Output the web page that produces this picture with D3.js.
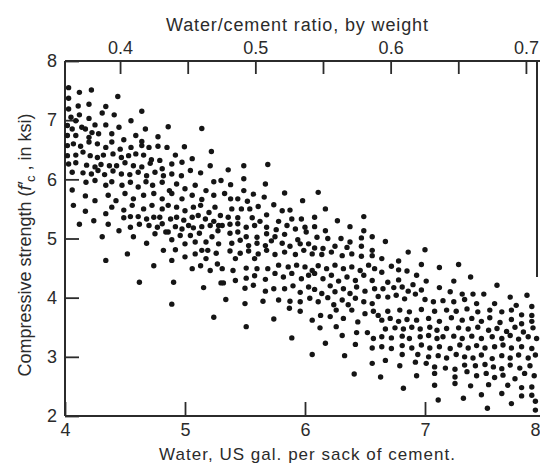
<!DOCTYPE html>
<html>
<head>
<meta charset="utf-8">
<script src="https://cdn.jsdelivr.net/npm/d3@7"></script>
<style>
html, body { margin: 0; padding: 0; background: #fff; }
svg { display: block; font-family: "Liberation Sans", Arial, sans-serif; }
</style>
</head>
<body>
<svg id="chart" width="540" height="464"></svg>
<script>
var gallonTicks = [4, 5, 6, 7, 8];
var strengthTicks = [2, 3, 4, 5, 6, 7, 8];
var ratioTicks = [0.4, 0.45, 0.5, 0.55, 0.6, 0.65, 0.7];
var ratioLabels = [0.4, 0.5, 0.6, 0.7];

var upperLeftPoints = [
    [4.03,7.55],[4.12,7.47],[4.22,7.51],[4.44,7.40],
    [4.03,7.37],[4.11,7.24],[4.20,7.27],[4.34,7.23],[4.03,7.19],[4.64,7.15],
    [4.12,7.09],[4.31,7.12],[4.41,7.09],[4.05,7.05],[4.20,7.03],[4.09,6.99],[4.55,6.99],[4.25,6.92],
    [4.02,6.91],[4.14,6.88],[4.34,6.92],[4.86,6.89],[5.14,6.86],[4.45,6.88],
    [4.06,6.85],[4.17,6.85],[4.225,6.79],[4.67,6.85],[4.59,6.74],
    [4.02,6.74],[4.09,6.74],[4.20,6.71],[4.28,6.77],[4.39,6.77],[4.49,6.67],[4.775,6.72],[4.64,6.64],
    [4.02,6.57],[4.07,6.60],[4.13,6.56],[4.20,6.63],[4.27,6.60],[4.34,6.54],[4.39,6.63],[4.46,6.51],
    [4.55,6.54],[4.64,6.57],[4.70,6.54],[4.775,6.56],[4.85,6.54],[4.995,6.55],[5.22,6.47],
    [4.02,6.40],[4.09,6.41],[4.15,6.46],[4.21,6.40],[4.27,6.37],[4.32,6.41],[4.40,6.43],[4.47,6.37],
    [4.53,6.40],[4.59,6.43],[4.655,6.41],[4.72,6.33],[4.79,6.32],[4.92,6.41],[5.06,6.35],
    [4.03,6.26],[4.09,6.28],[4.18,6.24],[4.25,6.21],[4.30,6.25],[4.37,6.23],[4.43,6.23],[4.50,6.28],
    [4.57,6.23],[4.64,6.21],[4.71,6.27],[4.81,6.18],[4.89,6.26],[4.975,6.29],[5.045,6.15],[5.21,6.23],
    [4.06,6.12],[4.15,6.11],[4.22,6.09],[4.275,6.15],[4.33,6.08],[4.40,6.14],[4.47,6.09],[4.54,6.08],
    [4.61,6.12],[4.68,6.06],[4.75,6.12],[4.82,6.06],[4.89,6.09],[4.97,6.06],[5.13,6.11],
    [4.06,5.82],[4.175,5.95],[4.25,5.98],[4.34,5.90],[4.39,5.96],[4.475,5.90],[4.545,5.95],[4.61,5.87],
    [4.675,5.96],[4.73,5.90],[4.81,5.95],[4.87,5.81],[4.93,5.92],[5.00,5.84],[5.085,5.90],[5.175,5.81],
    [5.24,5.96],[5.30,5.98],
    [4.17,5.72],[4.25,5.64],[4.36,5.73],[4.425,5.64],[4.50,5.76],[4.57,5.67],[4.655,5.73],[4.74,5.76],
    [4.81,5.67],[4.89,5.76],[4.975,5.67],[5.06,5.73],[5.14,5.66],[5.24,5.73]
];

var lowerLeftPoints = [
    [4.07,5.56],[4.17,5.46],[4.34,5.42],[4.39,5.53],[4.49,5.48],[4.56,5.56],[4.655,5.50],[4.725,5.56],
    [4.81,5.50],[4.86,5.56],[4.93,5.53],[5.00,5.47],[5.07,5.53],[5.13,5.56],[5.20,5.44],[5.25,5.53],[5.295,5.39],
    [4.12,5.24],[4.24,5.30],[4.36,5.24],[4.49,5.35],[4.545,5.37],[4.61,5.37],[4.68,5.33],[4.74,5.36],
    [4.79,5.36],[4.88,5.33],[4.93,5.36],[4.99,5.31],[5.06,5.36],[5.11,5.39],[5.17,5.33],[5.24,5.29],[5.28,5.22],
    [4.45,5.13],[4.545,5.19],[4.62,5.24],[4.70,5.22],[4.77,5.19],[4.81,5.25],[4.86,5.11],[4.92,5.20],
    [4.975,5.16],[5.03,5.22],[5.07,5.18],[5.14,5.20],[5.21,5.22],[5.275,5.13],
    [4.31,5.03],[4.57,5.03],[4.75,5.08],[4.84,5.11],[4.89,4.98],[4.96,5.05],[5.00,4.91],[5.045,5.05],
    [5.085,4.94],[5.12,5.09],[5.175,4.94],[5.225,5.03],[5.28,4.91],
    [4.68,4.92],[4.82,4.80],[4.92,4.81],[5.085,4.74],[5.14,4.80],[5.19,4.80],[5.26,4.75],
    [4.34,4.63],[4.52,4.74],[4.74,4.54],[4.89,4.63],[5.00,4.69],[5.06,4.49],[5.13,4.54],[5.175,4.66],
    [5.21,4.46],[5.27,4.57],
    [4.62,4.26],[4.905,4.26],[5.155,4.17],[5.30,4.25],
    [4.89,3.89],[5.24,3.67]
];

var upperMidPoints = [
    [5.36,6.16],[5.49,6.23],[5.69,6.25],[5.38,5.91],[5.49,6.01],[5.67,5.92],
    [5.33,5.76],[5.49,5.81],[5.57,5.75],[5.66,5.70],[5.83,5.77],[6.11,5.78],
    [5.38,5.67],[5.44,5.67],[5.52,5.63],[5.61,5.54],[5.74,5.57],[5.98,5.64],
    [5.39,5.50],[5.47,5.50],[5.54,5.50],[5.81,5.47],[5.875,5.48],[6.17,5.50],
    [5.36,5.36],[5.44,5.35],[5.56,5.35],[5.625,5.29],[5.68,5.40],[5.78,5.29],[5.89,5.33],[5.97,5.33],
    [6.08,5.36],[6.27,5.30],[6.49,5.37],
    [5.31,5.22],[5.375,5.24],[5.44,5.25],[5.51,5.19],[5.58,5.22],[5.68,5.19],[5.76,5.15],[5.85,5.22],
    [5.92,5.16],[6.00,5.19],[6.08,5.20],[6.17,5.13],[6.375,5.20],[6.49,5.13],
    [5.375,5.09],[5.44,5.11],[5.51,5.03],[5.60,5.02],[5.68,5.08],[5.75,5.03],[5.83,5.07],[5.94,4.98],
    [6.01,5.11],[6.10,5.02],[6.19,5.00],[6.30,5.00],[6.375,4.94],[6.47,5.01],[6.56,5.03],
    [5.39,4.92],[5.46,4.97],[5.53,4.88],[5.60,4.92],[5.67,4.88],[5.72,4.96],[5.81,4.92],[5.875,4.87],
    [5.96,4.91],[6.03,4.91],[6.08,4.84],[6.15,4.83],[6.25,4.87],[6.35,4.85],[6.47,4.87],[6.56,4.80],
    [5.375,4.79],[5.46,4.75],[5.53,4.79],[5.61,4.74],[5.68,4.80],[5.75,4.73],[5.83,4.77],[5.92,4.73],
    [5.99,4.80],[6.06,4.74],[6.14,4.73],[6.22,4.77],[6.31,4.71],[6.39,4.74],[6.47,4.70],[6.56,4.71],
    [5.42,4.66],[5.58,4.66]
];

var lowerMidPoints = [
    [5.31,4.49],[5.40,4.46],[5.51,4.50],[5.60,4.49],[5.69,4.49],[5.78,4.55],[5.86,4.52],[5.93,4.55],
    [6.00,4.52],[6.06,4.46],[6.11,4.54],[6.18,4.49],[6.25,4.55],[6.32,4.49],[6.39,4.52],[6.46,4.46],
    [6.53,4.55],[6.58,4.49],
    [5.32,4.25],[5.42,4.29],[5.51,4.33],[5.58,4.37],[5.67,4.31],[5.75,4.41],[5.82,4.35],[5.89,4.41],
    [5.97,4.32],[6.03,4.38],[6.08,4.41],[6.15,4.32],[6.22,4.38],[6.28,4.28],[6.35,4.35],[6.42,4.29],
    [6.49,4.38],[6.56,4.29],
    [5.50,4.16],[5.57,4.21],[5.67,4.11],[5.74,4.15],[5.83,4.15],[5.90,4.20],[5.96,4.09],[6.03,4.18],
    [6.08,4.14],[6.14,4.07],[6.21,4.20],[6.25,4.10],[6.32,4.15],[6.375,4.07],[6.43,4.18],[6.50,4.11],[6.58,4.15],
    [5.34,3.97],[5.50,3.90],[5.65,3.94],[5.78,3.96],[5.875,3.94],[5.96,3.93],[6.04,3.99],[6.11,3.93],
    [6.19,4.00],[6.24,3.88],[6.31,3.96],[6.36,3.88],[6.42,3.99],[6.49,3.93],[6.56,3.90],[6.61,4.02],
    [5.74,3.64],[5.87,3.82],[5.96,3.77],[6.06,3.62],[6.13,3.70],[6.21,3.68],[6.26,3.79],[6.32,3.65],
    [6.39,3.79],[6.44,3.59],[6.50,3.73],[6.57,3.77],[6.61,3.70],
    [5.51,3.51],[5.89,3.32],[6.125,3.49],[6.26,3.51],[6.31,3.36],[6.43,3.41],[6.52,3.41],[6.57,3.31],
    [6.06,3.04],[6.17,3.23],[6.33,3.02],[6.42,3.21],[6.56,3.15],[6.56,2.89],
    [6.41,2.71]
];

var upperRightPoints = [
    [6.67,4.95],[6.86,4.77],[7.00,4.81],[6.64,4.66],[6.78,4.62],[6.72,4.53],[6.97,4.56],[7.12,4.51],[7.28,4.56],
    [6.64,4.43],[6.78,4.47],[6.85,4.45],[6.93,4.38],[7.38,4.35],
    [6.69,4.26],[6.78,4.30],[6.90,4.22],[7.01,4.28],[7.24,4.28],[7.60,4.21],
    [6.65,4.15],[6.74,4.17],[6.81,4.18],[6.86,4.11],[6.97,4.13],[7.12,4.17],[7.21,4.10],[7.31,4.06],
    [7.40,4.06],[7.49,4.06],[7.71,4.01],[7.85,4.04],
    [6.69,4.01],[6.76,4.04],[6.83,3.98],[6.92,4.06],[7.00,3.97],[7.07,3.93],[7.15,3.95],[7.24,3.93],
    [7.33,3.97],[7.43,3.90],[7.58,3.90],[7.76,3.87],[7.89,3.85]
];

var lowerRightPoints = [
    [6.69,3.77],[6.79,3.79],[6.87,3.76],[6.97,3.80],[7.08,3.77],[7.18,3.79],[7.26,3.77],[7.35,3.81],
    [7.44,3.76],[7.54,3.79],[7.64,3.76],[7.72,3.79],[7.805,3.71],[7.89,3.70],
    [6.64,3.62],[6.71,3.65],[6.78,3.60],[6.85,3.63],[6.93,3.62],[7.03,3.65],[7.12,3.60],[7.22,3.66],
    [7.31,3.62],[7.39,3.65],[7.47,3.60],[7.54,3.66],[7.625,3.58],[7.72,3.63],[7.805,3.56],[7.89,3.60],
    [6.67,3.47],[6.75,3.49],[6.82,3.47],[6.89,3.50],[6.96,3.47],[7.04,3.50],[7.10,3.45],[7.18,3.48],
    [7.28,3.49],[7.36,3.47],[7.44,3.50],[7.53,3.45],[7.60,3.48],[7.68,3.43],[7.75,3.50],[7.82,3.42],[7.90,3.49],
    [6.64,3.34],[6.72,3.32],[6.81,3.35],[6.87,3.31],[6.96,3.34],[7.03,3.36],[7.10,3.31],[7.15,3.34],
    [7.24,3.35],[7.31,3.31],[7.39,3.35],[7.47,3.31],[7.56,3.34],[7.64,3.31],[7.71,3.36],[7.78,3.30],
    [7.86,3.34],[7.93,3.31],
    [6.64,3.17],[6.72,3.14],[6.81,3.19],[6.89,3.15],[6.97,3.20],[7.04,3.15],[7.12,3.17],[7.21,3.14],
    [7.29,3.20],[7.36,3.15],[7.43,3.19],[7.50,3.15],[7.58,3.17],[7.65,3.20],[7.72,3.15],[7.805,3.17],[7.89,3.14],
    [6.67,2.94],[6.81,3.04],[6.94,3.04],[7.03,3.00],[7.11,3.02],[7.18,2.98],[7.26,3.04],[7.33,3.00],
    [7.40,2.98],[7.47,3.03],[7.56,2.97],[7.64,3.02],[7.71,2.98],[7.78,3.03],[7.86,2.98],[7.92,3.03],
    [6.79,2.85],[6.92,2.91],[7.01,2.89],[7.08,2.83],[7.17,2.81],[7.25,2.79],[7.33,2.86],[7.42,2.85],
    [7.50,2.87],[7.57,2.83],[7.64,2.80],[7.71,2.86],[7.79,2.81],[7.875,2.85],
    [6.63,2.66],[6.93,2.68],[7.08,2.72],[7.25,2.66],[7.35,2.75],[7.43,2.68],[7.51,2.72],[7.58,2.65],
    [7.65,2.69],[7.75,2.63],[7.83,2.72],[7.91,2.68],
    [6.82,2.47],[7.08,2.52],[7.25,2.55],[7.38,2.51],[7.53,2.53],[7.69,2.52],[7.805,2.48],[7.89,2.49],
    [7.11,2.27],[7.32,2.30],[7.47,2.36],[7.64,2.38],[7.72,2.21],[7.805,2.34],[7.89,2.35],[7.92,2.25],
    [7.52,2.13],[7.92,2.10]
];

var ink = "#2b2b2b";
var plot = { left: 65, right: 545, top: 61, bottom: 416 };

var svg = d3.select("#chart");

var x = d3.scaleLinear().domain([4, 8]).range([plot.left, plot.right]);
var y = d3.scaleLinear().domain([2, 8]).range([plot.bottom, plot.top]);
// water/cement ratio runs along the top, same positions as the gallons below
var ratio = d3.scaleLinear().domain([0.3593, 0.7141]).range([plot.left, plot.right]);

function styleAxis(g) {
    g.select(".domain").remove();
    g.selectAll(".tick line").attr("stroke", ink).attr("stroke-width", 1.8);
    g.selectAll(".tick text")
        .attr("fill", ink)
        .style("font-size", "18px")
        .style("font-family", "'Liberation Sans', Arial, sans-serif");
}

var bottomAxis = svg.append("g")
    .attr("transform", "translate(0," + plot.bottom + ")")
    .call(d3.axisBottom(x).tickValues(gallonTicks).tickSize(-14).tickPadding(7).tickFormat(d3.format("d")))
    .call(styleAxis);
// the last label sits on the page edge; pull it inside
bottomAxis.selectAll(".tick text")
    .filter(function (d) { return d === 8; })
    .attr("text-anchor", "end")
    .attr("x", 540 - plot.right);

svg.append("g")
    .attr("transform", "translate(" + plot.left + ",0)")
    .call(d3.axisLeft(y).tickValues(strengthTicks).tickSize(-14).tickPadding(8).tickFormat(d3.format("d")))
    .call(styleAxis);

svg.append("g")
    .attr("transform", "translate(0," + plot.top + ")")
    .call(d3.axisTop(ratio).tickValues(ratioTicks).tickSize(-13).tickPadding(7)
        .tickFormat(function (d) {
            return ratioLabels.some(function (r) { return Math.abs(r - d) < 1e-9; }) ? d3.format(".1f")(d) : "";
        }))
    .call(styleAxis);

// frame: the scan shows the right border only down to about y = 4.35
var frame = svg.append("g").attr("stroke", ink).attr("stroke-width", 2).attr("fill", "none");
frame.append("line").attr("x1", plot.left).attr("x2", 540).attr("y1", plot.top).attr("y2", plot.top);
frame.append("line").attr("x1", plot.left).attr("x2", 540).attr("y1", plot.bottom).attr("y2", plot.bottom);
frame.append("line").attr("x1", plot.left).attr("x2", plot.left).attr("y1", plot.top).attr("y2", plot.bottom);
frame.append("line").attr("x1", 537).attr("x2", 537).attr("y1", plot.top).attr("y2", y(4.35));

var allPoints = [].concat(upperLeftPoints, lowerLeftPoints, upperMidPoints,
    lowerMidPoints, upperRightPoints, lowerRightPoints);

svg.append("g")
    .selectAll("circle")
    .data(allPoints)
    .enter().append("circle")
    .attr("cx", function (d) { return x(d[0]); })
    .attr("cy", function (d) { return y(d[1]); })
    .attr("r", 2.7)
    .attr("fill", "#151515");

svg.append("text")
    .attr("x", 297)
    .attr("y", 31)
    .attr("text-anchor", "middle")
    .attr("fill", ink)
    .style("font-size", "18px")
    .attr("textLength", 262)
    .text("Water/cement ratio, by weight");

svg.append("text")
    .attr("x", 307)
    .attr("y", 460)
    .attr("text-anchor", "middle")
    .attr("fill", ink)
    .style("font-size", "17px")
    .attr("textLength", 296)
    .text("Water, US gal. per sack of cement.");

var yTitle = svg.append("text")
    .attr("transform", "translate(31,245) rotate(-90)")
    .attr("text-anchor", "middle")
    .attr("fill", ink)
    .style("font-size", "18px");
yTitle.append("tspan").text("Compressive strength (");
yTitle.append("tspan").style("font-style", "italic").text("f′");
yTitle.append("tspan").attr("dy", 4).style("font-size", "13px").text("c");
yTitle.append("tspan").attr("dy", -4).text(" , in ksi)");
</script>
</body>
</html>
